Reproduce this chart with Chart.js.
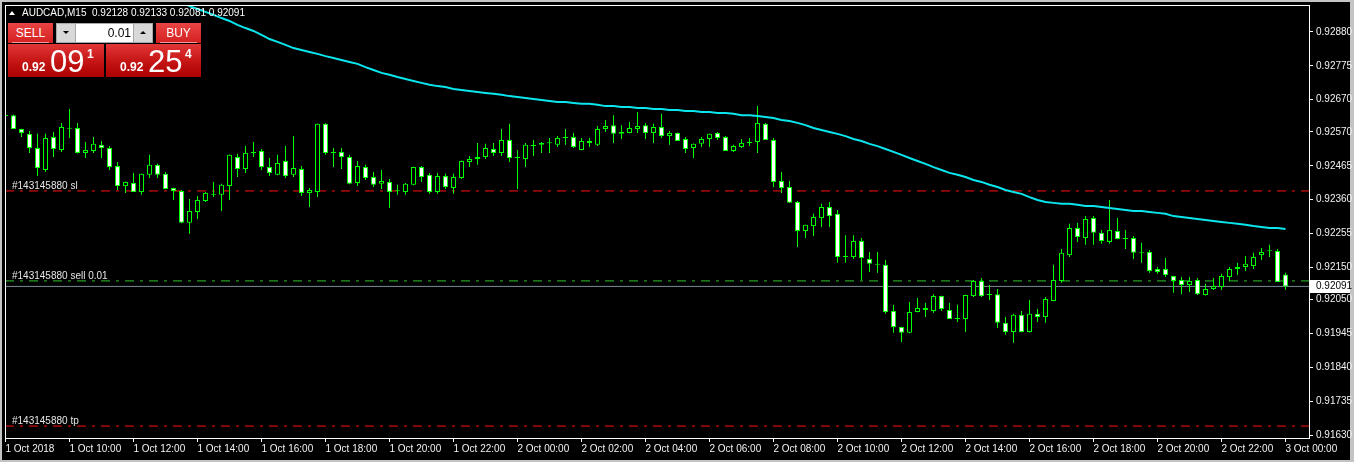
<!DOCTYPE html>
<html>
<head>
<meta charset="utf-8">
<title>AUDCAD,M15</title>
<script src="https://cdn.jsdelivr.net/npm/chart.js@4.4.0/dist/chart.umd.min.js"></script>
<style>
html, body { margin: 0; padding: 0; background: #000; }
#wrap { position: relative; width: 1354px; height: 462px; overflow: hidden; font-family: 'Liberation Sans', Arial, sans-serif; }
#wrap canvas { display: block; }
.hdr { position: absolute; left: 8px; top: 6px; color: #fff; font-size: 10px; line-height: 13px; white-space: nowrap; }
.hdr .tri { display: inline-block; width: 0; height: 0; border-left: 3px solid transparent; border-right: 3px solid transparent; border-bottom: 4px solid #fff; margin: 0 7px 1px 1px; }
.btn { position: absolute; top: 23px; height: 20px; width: 45px; color: #fff; font-size: 12px; line-height: 20px; text-align: center;
       background: linear-gradient(#ea4444, #d42020); }
.btn::after { content: ''; position: absolute; left: 4px; right: 4px; bottom: 0; height: 1px; background: #f59a9a; }
.lot { position: absolute; left: 56px; top: 23px; width: 97px; height: 20px; background: #a8a8a8; }
.spin { position: absolute; top: 1px; width: 18px; height: 18px; background: #d8d8d8; }
.spin i { position: absolute; left: 6px; top: 7px; width: 0; height: 0; border-left: 3px solid transparent; border-right: 3px solid transparent; }
.spin.dn i { border-top: 3px solid #000; }
.spin.up i { border-bottom: 3px solid #000; }
.lotval { position: absolute; left: 20px; top: 1px; width: 55px; height: 18px; background: #fff; color: #000; font-size: 12px; line-height: 18px; text-align: right; padding-right: 2px; }
.price { position: absolute; top: 44px; height: 33px; color: #fff; background: linear-gradient(#e23636, #c41414 55%, #ad0000); }
.price span { position: absolute; white-space: nowrap; }
.price .pre { left: 14px; top: 17px; font-size: 12px; line-height: 12px; font-weight: bold; }
.price .big { left: 42px; top: 2px; font-size: 31px; line-height: 31px; }
.price .sup { left: 79px; top: 4px; font-size: 12px; line-height: 12px; font-weight: bold; }
</style>
</head>
<body>
<div id="wrap">
  <canvas id="chart" width="1354" height="462"></canvas>
  <div class="hdr"><span class="tri"></span>AUDCAD,M15&nbsp; 0.92128 0.92133 0.92081 0.92091</div>
  <div class="btn" style="left:8px;">SELL</div>
  <div class="lot">
    <div class="spin dn" style="left:1px;"><i></i></div>
    <div class="lotval">0.01</div>
    <div class="spin up" style="left:78px;"><i></i></div>
  </div>
  <div class="btn" style="left:156px;">BUY</div>
  <div class="price" style="left:8px;width:96px;"><span class="pre">0.92</span><span class="big">09</span><span class="sup">1</span></div>
  <div class="price" style="left:106px;width:95px;"><span class="pre">0.92</span><span class="big">25</span><span class="sup">4</span></div>
</div>
<script>
// AUDCAD M15 candles, 1 Oct 08:00 .. 3 Oct 00:00
const opens = [
  0.92622, 0.92622, 0.92579, 0.92564, 0.92520, 0.92452, 0.92554, 0.92514, 0.92582, 0.92582,
  0.92505, 0.92511, 0.92530, 0.92520, 0.92464, 0.92402, 0.92412, 0.92384, 0.92437, 0.92468,
  0.92440, 0.92396, 0.92387, 0.92288, 0.92322, 0.92356, 0.92375, 0.92375, 0.92402, 0.92492,
  0.92455, 0.92505, 0.92511, 0.92461, 0.92437, 0.92480, 0.92437, 0.92455, 0.92381, 0.92384,
  0.92595, 0.92505, 0.92508, 0.92492, 0.92412, 0.92461, 0.92430, 0.92409, 0.92415, 0.92387,
  0.92384, 0.92406, 0.92461, 0.92437, 0.92384, 0.92433, 0.92396, 0.92427, 0.92477, 0.92486,
  0.92492, 0.92517, 0.92505, 0.92545, 0.92489, 0.92486, 0.92526, 0.92530, 0.92535, 0.92530,
  0.92551, 0.92554, 0.92514, 0.92542, 0.92530, 0.92579, 0.92591, 0.92564, 0.92567, 0.92579,
  0.92591, 0.92567, 0.92585, 0.92557, 0.92567, 0.92548, 0.92520, 0.92533, 0.92548, 0.92567,
  0.92554, 0.92511, 0.92523, 0.92536, 0.92539, 0.92595, 0.92545, 0.92418, 0.92399, 0.92353,
  0.92263, 0.92278, 0.92303, 0.92337, 0.92316, 0.92182, 0.92182, 0.92232, 0.92176, 0.92161,
  0.92158, 0.92015, 0.91965, 0.91947, 0.92012, 0.92024, 0.92015, 0.92061, 0.92018, 0.91990,
  0.91990, 0.92061, 0.92108, 0.92064, 0.92067, 0.91978, 0.91950, 0.92003, 0.91950, 0.92006,
  0.91996, 0.92046, 0.92108, 0.92188, 0.92272, 0.92241, 0.92303, 0.92257, 0.92229, 0.92263,
  0.92241, 0.92241, 0.92195, 0.92198, 0.92145, 0.92145, 0.92123, 0.92111, 0.92095, 0.92111,
  0.92064, 0.92083, 0.92089, 0.92120, 0.92145, 0.92151, 0.92154, 0.92188, 0.92201, 0.92201,
  0.92128
];
const highs = [
  0.92638, 0.92624, 0.92580, 0.92573, 0.92564, 0.92564, 0.92570, 0.92598, 0.92641, 0.92598,
  0.92539, 0.92554, 0.92542, 0.92526, 0.92477, 0.92416, 0.92443, 0.92441, 0.92499, 0.92471,
  0.92446, 0.92397, 0.92390, 0.92362, 0.92371, 0.92384, 0.92415, 0.92409, 0.92500, 0.92502,
  0.92526, 0.92539, 0.92517, 0.92489, 0.92499, 0.92526, 0.92557, 0.92464, 0.92396, 0.92596,
  0.92597, 0.92520, 0.92520, 0.92499, 0.92480, 0.92468, 0.92446, 0.92452, 0.92424, 0.92406,
  0.92412, 0.92462, 0.92464, 0.92443, 0.92443, 0.92440, 0.92440, 0.92481, 0.92495, 0.92536,
  0.92533, 0.92536, 0.92579, 0.92595, 0.92514, 0.92536, 0.92545, 0.92539, 0.92551, 0.92557,
  0.92579, 0.92567, 0.92551, 0.92551, 0.92588, 0.92607, 0.92622, 0.92591, 0.92601, 0.92632,
  0.92598, 0.92595, 0.92626, 0.92573, 0.92568, 0.92554, 0.92534, 0.92554, 0.92565, 0.92570,
  0.92557, 0.92530, 0.92548, 0.92551, 0.92650, 0.92598, 0.92551, 0.92446, 0.92418, 0.92356,
  0.92282, 0.92316, 0.92347, 0.92353, 0.92328, 0.92250, 0.92250, 0.92241, 0.92198, 0.92198,
  0.92173, 0.92034, 0.91966, 0.92043, 0.92055, 0.92040, 0.92067, 0.92062, 0.92040, 0.92034,
  0.92065, 0.92111, 0.92117, 0.92095, 0.92083, 0.91996, 0.92006, 0.92015, 0.92049, 0.92021,
  0.92058, 0.92158, 0.92207, 0.92285, 0.92288, 0.92309, 0.92309, 0.92266, 0.92359, 0.92303,
  0.92266, 0.92247, 0.92226, 0.92204, 0.92151, 0.92179, 0.92124, 0.92120, 0.92120, 0.92117,
  0.92099, 0.92117, 0.92130, 0.92151, 0.92164, 0.92185, 0.92195, 0.92210, 0.92220, 0.92207,
  0.92133
];
const lows = [
  0.92601, 0.92579, 0.92554, 0.92505, 0.92433, 0.92446, 0.92492, 0.92508, 0.92551, 0.92503,
  0.92489, 0.92505, 0.92489, 0.92452, 0.92390, 0.92381, 0.92384, 0.92375, 0.92427, 0.92427,
  0.92392, 0.92359, 0.92287, 0.92254, 0.92300, 0.92353, 0.92368, 0.92325, 0.92359, 0.92430,
  0.92443, 0.92492, 0.92452, 0.92433, 0.92436, 0.92427, 0.92430, 0.92371, 0.92337, 0.92368,
  0.92499, 0.92461, 0.92455, 0.92408, 0.92402, 0.92421, 0.92399, 0.92393, 0.92334, 0.92375,
  0.92375, 0.92405, 0.92415, 0.92378, 0.92378, 0.92393, 0.92378, 0.92424, 0.92461, 0.92468,
  0.92486, 0.92495, 0.92495, 0.92477, 0.92393, 0.92461, 0.92495, 0.92505, 0.92505, 0.92523,
  0.92530, 0.92520, 0.92513, 0.92523, 0.92526, 0.92570, 0.92536, 0.92548, 0.92566, 0.92567,
  0.92548, 0.92536, 0.92551, 0.92530, 0.92542, 0.92505, 0.92489, 0.92523, 0.92523, 0.92545,
  0.92511, 0.92508, 0.92520, 0.92526, 0.92505, 0.92545, 0.92399, 0.92381, 0.92350, 0.92213,
  0.92241, 0.92247, 0.92275, 0.92275, 0.92164, 0.92164, 0.92176, 0.92111, 0.92136, 0.92133,
  0.92006, 0.91947, 0.91919, 0.91946, 0.92011, 0.91996, 0.92009, 0.92015, 0.91990, 0.91981,
  0.91950, 0.92058, 0.92058, 0.92049, 0.91962, 0.91941, 0.91916, 0.91949, 0.91948, 0.91981,
  0.91978, 0.92045, 0.92102, 0.92182, 0.92229, 0.92220, 0.92220, 0.92223, 0.92223, 0.92237,
  0.92207, 0.92176, 0.92164, 0.92133, 0.92130, 0.92120, 0.92071, 0.92067, 0.92074, 0.92064,
  0.92063, 0.92080, 0.92080, 0.92108, 0.92126, 0.92139, 0.92145, 0.92173, 0.92182, 0.92105,
  0.92081
];
const closes = [
  0.92619, 0.92579, 0.92567, 0.92520, 0.92458, 0.92551, 0.92517, 0.92585, 0.92580, 0.92505,
  0.92514, 0.92533, 0.92520, 0.92461, 0.92402, 0.92415, 0.92384, 0.92440, 0.92468, 0.92437,
  0.92393, 0.92387, 0.92288, 0.92325, 0.92359, 0.92381, 0.92376, 0.92406, 0.92499, 0.92455,
  0.92505, 0.92506, 0.92461, 0.92443, 0.92474, 0.92433, 0.92458, 0.92381, 0.92390, 0.92595,
  0.92505, 0.92506, 0.92492, 0.92409, 0.92464, 0.92427, 0.92406, 0.92418, 0.92384, 0.92386,
  0.92409, 0.92461, 0.92430, 0.92384, 0.92433, 0.92399, 0.92430, 0.92480, 0.92486, 0.92492,
  0.92520, 0.92505, 0.92545, 0.92489, 0.92490, 0.92530, 0.92527, 0.92536, 0.92537, 0.92551,
  0.92552, 0.92523, 0.92542, 0.92536, 0.92579, 0.92588, 0.92564, 0.92570, 0.92582, 0.92588,
  0.92567, 0.92585, 0.92557, 0.92567, 0.92542, 0.92517, 0.92533, 0.92548, 0.92564, 0.92551,
  0.92511, 0.92526, 0.92536, 0.92537, 0.92598, 0.92545, 0.92415, 0.92396, 0.92350, 0.92263,
  0.92282, 0.92306, 0.92337, 0.92309, 0.92182, 0.92183, 0.92232, 0.92179, 0.92161, 0.92158,
  0.92012, 0.91965, 0.91947, 0.92012, 0.92024, 0.92018, 0.92061, 0.92021, 0.91990, 0.91991,
  0.92064, 0.92108, 0.92061, 0.92065, 0.91978, 0.91950, 0.92003, 0.91950, 0.92006, 0.91996,
  0.92052, 0.92111, 0.92195, 0.92272, 0.92244, 0.92300, 0.92257, 0.92232, 0.92266, 0.92238,
  0.92238, 0.92195, 0.92194, 0.92139, 0.92136, 0.92126, 0.92108, 0.92095, 0.92108, 0.92067,
  0.92083, 0.92092, 0.92123, 0.92145, 0.92151, 0.92161, 0.92182, 0.92198, 0.92200, 0.92105,
  0.92091
];

// moving average (cyan), visible from candle 21 on
const maStart = 21;
const maValues = [
  0.92982, 0.92973, 0.92960, 0.92951, 0.92942, 0.92933, 0.92923, 0.92914, 0.92902, 0.92892,
  0.92883, 0.92871, 0.92858, 0.92849, 0.92840, 0.92830, 0.92824, 0.92818, 0.92812, 0.92805,
  0.92799, 0.92793, 0.92787, 0.92781, 0.92771, 0.92762, 0.92753, 0.92747, 0.92740, 0.92734,
  0.92728, 0.92722, 0.92716, 0.92712, 0.92709, 0.92703, 0.92700, 0.92697, 0.92694, 0.92691,
  0.92688, 0.92685, 0.92681, 0.92678, 0.92675, 0.92672, 0.92669, 0.92666, 0.92663, 0.92663,
  0.92660, 0.92657, 0.92657, 0.92654, 0.92650, 0.92650, 0.92647, 0.92647, 0.92644, 0.92644,
  0.92641, 0.92641, 0.92638, 0.92638, 0.92635, 0.92635, 0.92632, 0.92632, 0.92629, 0.92629,
  0.92626, 0.92622, 0.92622, 0.92619, 0.92616, 0.92613, 0.92607, 0.92604, 0.92598, 0.92591,
  0.92582, 0.92576, 0.92570, 0.92564, 0.92557, 0.92548, 0.92542, 0.92533, 0.92526, 0.92517,
  0.92508, 0.92499, 0.92489, 0.92480, 0.92471, 0.92461, 0.92452, 0.92443, 0.92437, 0.92430,
  0.92421, 0.92415, 0.92406, 0.92399, 0.92390, 0.92384, 0.92378, 0.92368, 0.92359, 0.92353,
  0.92350, 0.92347, 0.92347, 0.92344, 0.92340, 0.92340, 0.92337, 0.92334, 0.92331, 0.92328,
  0.92325, 0.92325, 0.92322, 0.92319, 0.92316, 0.92309, 0.92306, 0.92303, 0.92300, 0.92297,
  0.92294, 0.92291, 0.92288, 0.92285, 0.92282, 0.92278, 0.92275, 0.92272, 0.92272, 0.92269
];

// order levels
const slPrice = 0.92387;
const sellPrice = 0.92108;
const tpPrice = 0.91658;
const bidPrice = 0.92091;
const orderLabels = ['#143145880 sl', '#143145880 sell 0.01', '#143145880 tp'];

const timeLabels = [
  '1 Oct 2018', '1 Oct 10:00', '1 Oct 12:00', '1 Oct 14:00', '1 Oct 16:00', '1 Oct 18:00',
  '1 Oct 20:00', '1 Oct 22:00', '2 Oct 00:00', '2 Oct 02:00', '2 Oct 04:00', '2 Oct 06:00',
  '2 Oct 08:00', '2 Oct 10:00', '2 Oct 12:00', '2 Oct 14:00', '2 Oct 16:00', '2 Oct 18:00',
  '2 Oct 20:00', '2 Oct 22:00', '3 Oct 00:00'
];
const barsPerLabel = 8;
const priceTicks = [
  0.92880, 0.92775, 0.92670, 0.92570, 0.92465, 0.92360, 0.92255,
  0.92150, 0.92050, 0.91945, 0.91840, 0.91735, 0.91630
];

const priceMin = 0.91621;
const priceMax = 0.929635;
const xMin = -0.0625;
const xMax = 162.9375;

const LIME = '#00ff00';

const bodies = opens.map((o, i) => ({ x: i, y: [o, closes[i]] }));
const wicks = highs.map((h, i) => ({ x: i, y: [lows[i], h] }));
const bodyFill = opens.map((o, i) => closes[i] > o ? '#000000' : '#ffffff');
const maPoints = maValues.map((v, i) => ({ x: maStart + i, y: v }));

function levelLine(price, color) {
    return {
        type: 'line',
        data: [{ x: xMin, y: price }, { x: xMax, y: price }],
        borderColor: color,
        borderWidth: 1,
        borderDash: [9, 6, 3, 6],
        pointRadius: 0,
        order: 5
    };
}

const mtFrame = {
    id: 'mtFrame',
    beforeDraw(chart) {
        const ctx = chart.ctx;
        ctx.save();
        ctx.fillStyle = '#000';
        ctx.fillRect(0, 0, chart.width, chart.height);
        ctx.fillStyle = '#c4c4c4';
        ctx.fillRect(0, 0, chart.width, 2);
        ctx.fillRect(0, 0, 2, chart.height);
        ctx.fillRect(chart.width - 4, 0, 4, chart.height);
        ctx.fillRect(0, chart.height - 2, chart.width, 2);
        ctx.restore();
    },
    afterDatasetsDraw(chart) {
        const ctx = chart.ctx;
        const a = chart.chartArea;
        const y = chart.scales.y;
        ctx.save();
        ctx.strokeStyle = '#ffffff';
        ctx.lineWidth = 1;
        ctx.strokeRect(a.left + 0.5, a.top + 0.5, a.right - a.left, a.bottom - a.top);

        ctx.font = '10px "Liberation Sans", Arial, sans-serif';
        ctx.fillStyle = '#e6e6e6';
        ctx.textBaseline = 'alphabetic';
        [slPrice, sellPrice, tpPrice].forEach((p, i) => {
            ctx.fillText(orderLabels[i], 12, Math.round(y.getPixelForValue(p)) - 2);
        });

        // bid price box on the axis
        const by = Math.round(y.getPixelForValue(bidPrice));
        ctx.fillStyle = '#ffffff';
        ctx.fillRect(a.right + 1, by - 6, 40, 13);
        ctx.fillStyle = '#000000';
        ctx.textBaseline = 'middle';
        ctx.fillText(bidPrice.toFixed(5), a.right + 7, by + 0.5);
        ctx.restore();
    }
};

new Chart(document.getElementById('chart'), {
    type: 'bar',
    data: {
        datasets: [
            {
                type: 'line',
                data: maPoints,
                borderColor: '#0ae6ee',
                borderWidth: 2,
                pointRadius: 0,
                tension: 0,
                order: 0
            },
            {
                data: bodies,
                backgroundColor: bodyFill,
                borderColor: LIME,
                borderWidth: 1,
                borderSkipped: false,
                barThickness: 5,
                minBarLength: 1,
                inflateAmount: 0,
                grouped: false,
                order: 1
            },
            {
                data: wicks,
                backgroundColor: LIME,
                borderWidth: 0,
                barThickness: 1,
                inflateAmount: 0,
                grouped: false,
                order: 2
            },
            levelLine(slPrice, '#ff1010'),
            levelLine(sellPrice, '#2ec82e'),
            levelLine(tpPrice, '#ff1010'),
            Object.assign(levelLine(bidPrice, '#7b8a9a'), { borderDash: [] })
        ]
    },
    options: {
        responsive: false,
        animation: false,
        events: [],
        layout: { padding: { left: 5, top: 5, right: 0, bottom: 0 } },
        plugins: {
            legend: { display: false },
            tooltip: { enabled: false }
        },
        scales: {
            x: {
                type: 'linear',
                min: xMin,
                max: xMax,
                offset: false,
                grid: { display: true, drawOnChartArea: false, drawTicks: true, tickLength: 4, color: '#ffffff', offset: false },
                border: { display: false },
                afterBuildTicks: (scale) => {
                    scale.ticks = timeLabels.map((_, i) => ({ value: i * barsPerLabel }));
                },
                afterFit: (scale) => {
                    scale.height = 24;
                    scale.paddingLeft = 0;
                    scale.paddingRight = 0;
                },
                ticks: {
                    autoSkip: false,
                    maxRotation: 0,
                    minRotation: 0,
                    align: 'start',
                    padding: 1,
                    color: '#f2f2f2',
                    font: { size: 10, family: '"Liberation Sans", Arial, sans-serif' },
                    callback: (value, index) => timeLabels[index]
                }
            },
            y: {
                position: 'right',
                min: priceMin,
                max: priceMax,
                grid: { display: true, drawOnChartArea: false, drawTicks: true, tickLength: 4, color: '#ffffff' },
                border: { display: false },
                afterBuildTicks: (scale) => {
                    scale.ticks = priceTicks.map(v => ({ value: v }));
                },
                afterFit: (scale) => {
                    scale.width = 45;
                    scale.paddingTop = 0;
                    scale.paddingBottom = 0;
                },
                ticks: {
                    crossAlign: 'near',
                    padding: 3,
                    color: '#f2f2f2',
                    font: { size: 10, family: '"Liberation Sans", Arial, sans-serif' },
                    callback: (value) => value.toFixed(5)
                }
            }
        }
    },
    plugins: [mtFrame]
});
</script>
</body>
</html>
